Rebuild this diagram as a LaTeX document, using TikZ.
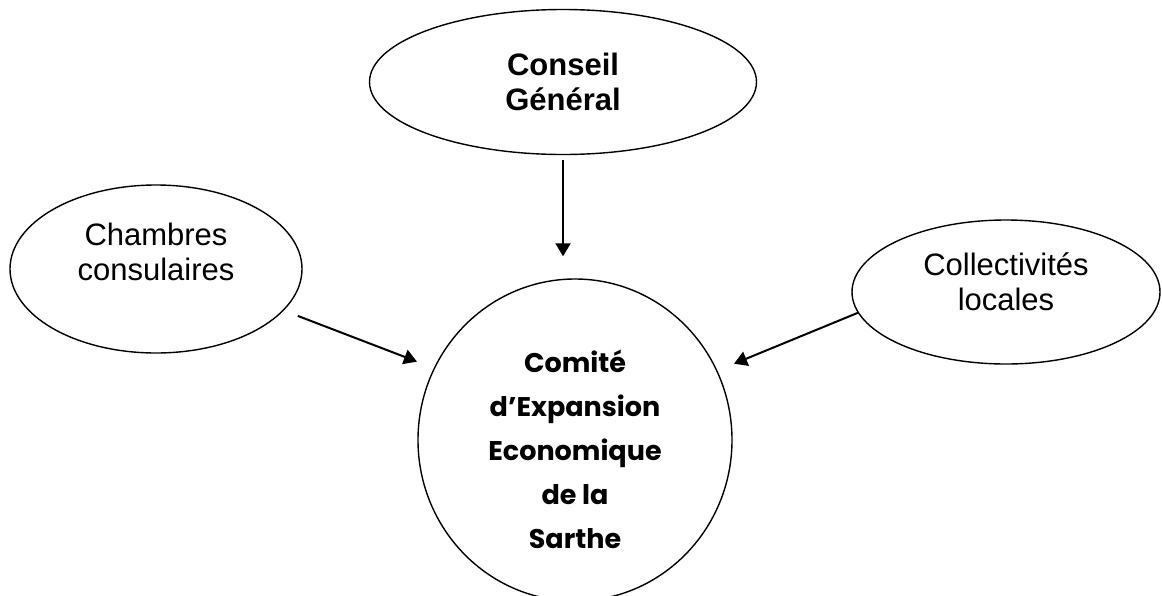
\documentclass[tikz,border=0pt]{standalone}
\usepackage{fontspec}
\setmainfont{Liberation Sans}
\newfontfamily\comicfont{Poppins}
\usetikzlibrary{shapes.geometric,arrows.meta}

\begin{document}
\begin{tikzpicture}[
        x=1pt, y=-1pt,
        ovale/.style={ellipse, draw, line width=1.4pt, inner sep=0pt, align=center},
        fleche/.style={-{Triangle[length=13pt,width=15pt]}, line width=2pt},
        texte/.style={font=\fontsize{31}{35}\selectfont},
    ]
    \tikzstyle{gras}=[font=\bfseries\fontsize{31}{35}\selectfont]
    \useasboundingbox (0,0) rectangle (1162,595);
    % les organismes
    \node[ovale, gras, minimum width=387pt, minimum height=145pt] (conseil) at (563,82) {Conseil\\Général};
    \node[ovale, texte, minimum width=292pt, minimum height=168pt] (chambres) at (156,269) {Chambres\\consulaires\\[0pt]};
    \node[ovale, texte, minimum width=308pt, minimum height=144pt] (collect) at (1006,292) {Collectivités\\locales\\[-14pt]};
    \node[ovale, minimum width=314pt, minimum height=322pt,
        font=\comicfont\bfseries\fontsize{27}{44}\selectfont] (comite) at (575,440)
        {\mbox{}\\[-2pt]Comité\\d’Expansion\\Economique\\de la\\Sarthe};
    % les fleches
    \draw[fleche, shorten <=5pt, shorten >=22pt] (conseil.south) -- (conseil.south |- comite.north);
    \draw[fleche, shorten <=15pt, shorten >=18pt] (chambres.-18) -- (comite.153);
    \draw[fleche, shorten >=18pt] (collect.188) -- (comite.26);
\end{tikzpicture}
\end{document}
